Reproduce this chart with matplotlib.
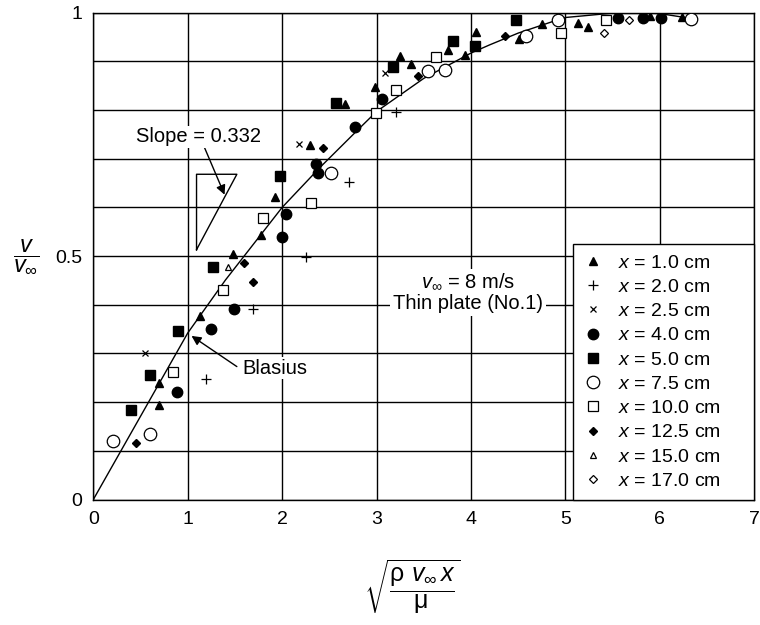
import matplotlib
matplotlib.use("Agg")
import matplotlib.pyplot as plt

plt.rcParams['font.family'] = ['Liberation Sans', 'DejaVu Sans']
plt.rcParams['mathtext.fontset'] = 'custom'
plt.rcParams['mathtext.rm'] = 'Liberation Sans'
plt.rcParams['mathtext.it'] = 'Liberation Sans:italic'
plt.rcParams['mathtext.bf'] = 'Liberation Sans:bold'

# Blasius curve as drawn in the figure
curve_x = [0, 0.5, 1.0, 1.4, 2.0, 2.4, 2.8, 3.0, 3.5, 4.0, 4.2, 4.5, 4.9, 5.0, 5.5, 5.8, 6.0, 6.3]
curve_y = [0, 0.171, 0.342, 0.451, 0.60, 0.682, 0.759, 0.797, 0.865, 0.917, 0.934, 0.958, 0.984, 0.99, 0.999, 1.0, 0.998, 0.989]

# measured points, one pair of lists per station
x10_eta = [0.697, 0.697, 1.128, 1.48, 1.78, 1.92, 2.29, 2.67, 2.98, 3.25, 3.36, 3.76, 3.94, 4.05, 4.51, 4.75, 5.13, 5.24, 5.9, 6.23]
x10_v = [0.194, 0.24, 0.377, 0.504, 0.543, 0.622, 0.728, 0.812, 0.847, 0.91, 0.894, 0.923, 0.913, 0.96, 0.945, 0.977, 0.978, 0.971, 0.993, 0.99]
x20_eta = [1.196, 1.69, 2.25, 2.71, 3.21]
x20_v = [0.247, 0.392, 0.499, 0.652, 0.795]
x25_eta = [0.55, 2.18, 3.09]
x25_v = [0.30, 0.73, 0.876]
x40_eta = [0.89, 1.247, 1.49, 2.0, 2.04, 2.36, 2.38, 2.77, 3.06, 5.56, 5.82, 6.01]
x40_v = [0.22, 0.351, 0.391, 0.54, 0.586, 0.69, 0.67, 0.766, 0.823, 0.988, 0.988, 0.988]
x50_eta = [0.403, 0.597, 0.894, 1.27, 1.98, 2.57, 3.17, 3.81, 4.04, 4.48]
x50_v = [0.184, 0.256, 0.346, 0.478, 0.665, 0.815, 0.889, 0.942, 0.932, 0.985]
x75_eta = [0.213, 0.60, 2.52, 3.54, 3.72, 4.58, 4.92, 6.33]
x75_v = [0.12, 0.135, 0.671, 0.88, 0.882, 0.953, 0.984, 0.986]
x100_eta = [0.843, 1.37, 1.8, 2.3, 2.99, 3.21, 3.63, 4.95, 5.43]
x100_v = [0.261, 0.43, 0.578, 0.61, 0.793, 0.841, 0.908, 0.959, 0.985]
x125_eta = [0.447, 1.69, 1.6, 2.43, 3.44, 4.36]
x125_v = [0.117, 0.446, 0.485, 0.722, 0.869, 0.951]
x150_eta = [1.43]
x150_v = [0.477]
x170_eta = [5.41, 5.67]
x170_v = [0.959, 0.985]

labels = ['1.0', '2.0', '2.5', '4.0', '5.0', '7.5', '10.0', '12.5', '15.0', '17.0']

fig = plt.figure(figsize=(7.6, 6.25), dpi=100)
ax = fig.add_axes([0.1228, 0.2008, 0.8697, 0.779])

ax.plot(curve_x, curve_y, color='black', lw=1.0, zorder=3)

series = [
    (x10_eta, x10_v, dict(marker='^', ms=6, mfc='black', mec='black')),
    (x20_eta, x20_v, dict(marker='+', ms=7, mec='black', mew=0.9)),
    (x25_eta, x25_v, dict(marker='x', ms=4.8, mec='black', mew=0.9)),
    (x40_eta, x40_v, dict(marker='o', ms=7.5, mfc='black', mec='black')),
    (x50_eta, x50_v, dict(marker='s', ms=7.0, mfc='black', mec='black')),
    (x75_eta, x75_v, dict(marker='o', ms=9, mfc='white', mec='black', mew=0.9)),
    (x100_eta, x100_v, dict(marker='s', ms=6.8, mfc='white', mec='black', mew=0.9)),
    (x125_eta, x125_v, dict(marker='D', ms=4.3, mfc='black', mec='black')),
    (x150_eta, x150_v, dict(marker='^', ms=4.6, mfc='white', mec='black', mew=0.9)),
    (x170_eta, x170_v, dict(marker='D', ms=4.3, mfc='white', mec='black', mew=0.9)),
]
for (xs, ys, style), lab in zip(series, labels):
    ax.plot(xs, ys, ls='none', label=r'$x$ = ' + lab + ' cm', zorder=4, **style)

ax.set_xlim(0, 7)
ax.set_ylim(0, 1)
ax.set_xticks(range(8))
ax.set_xticklabels([str(i) for i in range(8)])
yt = [i / 10 for i in range(11)]
ax.set_yticks(yt)
ax.set_yticklabels(['0' if v == 0 else '0.5' if v == 0.5 else '1' if v == 1 else '' for v in yt])
ax.tick_params(length=0, labelsize=14, pad=8)
ax.grid(True, color='black', lw=1.0)
ax.set_axisbelow(True)
for s in ax.spines.values():
    s.set_linewidth(1.0)

# slope triangle
ax.plot([1.093, 1.093, 1.52, 1.093], [0.513, 0.668, 0.668, 0.513], color='black', lw=1.0, zorder=3)
ax.text(1.11, 0.745, 'Slope = 0.332', ha='center', va='center', fontsize=14.5, zorder=5,
        bbox=dict(facecolor='white', edgecolor='none', pad=1))
ax.annotate('', xy=(1.39, 0.626), xytext=(1.155, 0.733),
            arrowprops=dict(arrowstyle='-|>', color='black', lw=1.0, shrinkA=0, shrinkB=0,
                            mutation_scale=14))
ax.text(1.92, 0.27, 'Blasius', ha='center', va='center', fontsize=14.5, zorder=5,
        bbox=dict(facecolor='white', edgecolor='none', pad=1))
ax.annotate('', xy=(1.04, 0.336), xytext=(1.52, 0.273),
            arrowprops=dict(arrowstyle='-|>', color='black', lw=1.0, shrinkA=0, shrinkB=0,
                            mutation_scale=14))
ax.text(3.97, 0.425, r'$v_\infty$ = 8 m/s' + '\nThin plate (No.1)', ha='center', va='center',
        fontsize=14.5, linespacing=1.1, zorder=5,
        bbox=dict(facecolor='white', edgecolor='none', pad=2))

leg = ax.legend(loc='lower left', bbox_to_anchor=(0.726, 0, 0.274, 0.5), mode='expand',
                borderaxespad=0, fontsize=14, handlelength=1.0, handletextpad=0.8,
                labelspacing=0.34, borderpad=0.5, fancybox=False, framealpha=1)
leg.get_frame().set_edgecolor('black')
leg.get_frame().set_linewidth(1.0)

fig.text(0.034, 0.590, r'$\dfrac{v}{v_\infty}$', fontsize=17, ha='center', va='center')
fig.text(0.543, 0.061, r'$\sqrt{\dfrac{\mathrm{\rho}\ v_\infty\, x}{\mathrm{\mu}}}$', fontsize=18,
         ha='center', va='center')

fig.savefig('out.png', dpi=100)
